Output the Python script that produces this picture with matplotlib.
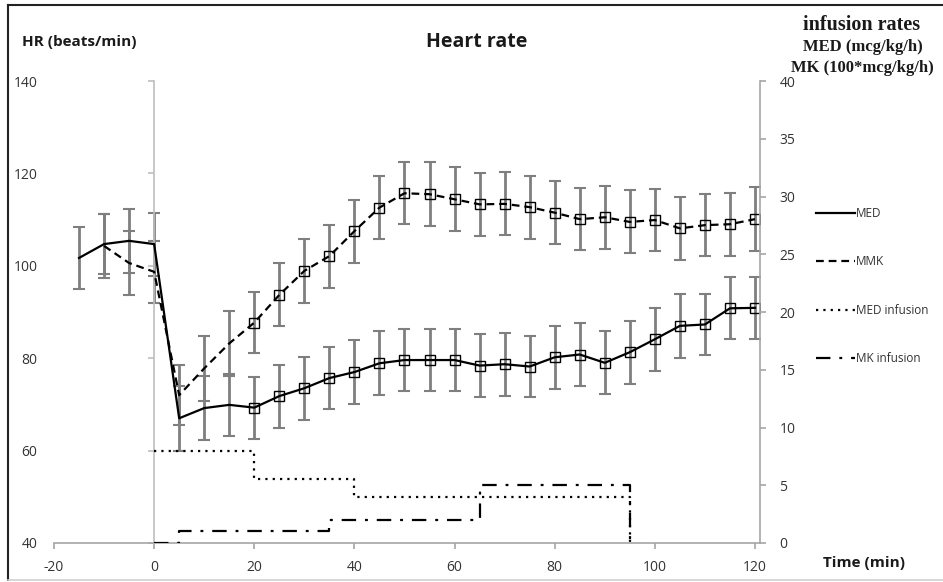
import matplotlib
matplotlib.use("Agg")
import matplotlib.pyplot as plt
from matplotlib.lines import Line2D
import numpy as np

plt.rcParams['font.family'] = ['Open Sans', 'DejaVu Sans']
plt.rcParams['axes.unicode_minus'] = False

# heart rate data (beats/min), mean and SD
med_time = [-15, -10, -5, 0, 5, 10, 15, 20, 25, 30, 35, 40, 45, 50, 55, 60,
            65, 70, 75, 80, 85, 90, 95, 100, 105, 110, 115, 120]
med_hr = [101.7, 104.7, 105.4, 104.7, 67.0, 69.2, 69.9, 69.3, 71.8, 73.5, 75.7,
          77.0, 78.9, 79.6, 79.6, 79.6, 78.4, 78.7, 78.2, 80.2, 80.8, 79.0,
          81.3, 84.1, 87.0, 87.3, 90.8, 90.9]
med_sd = [6.8, 6.5, 6.9, 6.8, 7.0, 7.0, 6.7, 6.7, 6.8, 6.8, 6.7, 6.9, 6.9, 6.8,
          6.8, 6.8, 6.8, 6.8, 6.7, 6.8, 6.9, 6.8, 6.8, 6.8, 6.9, 6.7, 6.7, 6.7]

mmk_time = [-10, -5, 0, 5, 10, 15, 20, 25, 30, 35, 40, 45, 50, 55, 60,
            65, 70, 75, 80, 85, 90, 95, 100, 105, 110, 115, 120]
mmk_hr = [104.3, 100.6, 98.7, 72.0, 77.8, 83.2, 87.7, 93.7, 98.9, 102.1, 107.5,
          112.6, 115.7, 115.5, 114.4, 113.3, 113.4, 112.7, 111.5, 110.1, 110.5,
          109.5, 109.9, 108.1, 108.8, 109.0, 110.1]
mmk_sd = [7.0, 6.9, 6.7, 6.5, 7.0, 7.0, 6.6, 6.8, 6.9, 6.8, 6.8, 6.8, 6.7, 6.9,
          6.9, 6.8, 6.8, 6.8, 6.8, 6.7, 6.8, 6.8, 6.8, 6.9, 6.7, 6.8, 6.9]

# infusion rates (step changes)
med_inf_time = [0, 20, 40, 95]
med_inf_rate = [8, 5.5, 4, 0]
mk_inf_time = [0, 5, 35, 65, 95]
mk_inf_rate = [0, 1, 2, 5, 0]

fig = plt.figure(figsize=(9.43, 5.82), dpi=100)
ax = fig.add_axes([54/943, 1-543/582, (760-54)/943, (543-81)/582])

grey = '#7f7f7f'
ax.errorbar(med_time, med_hr, yerr=med_sd, fmt='none', ecolor=grey,
            elinewidth=2, capsize=4, capthick=1.5, zorder=2)
ax.errorbar(mmk_time, mmk_hr, yerr=mmk_sd, fmt='none', ecolor=grey,
            elinewidth=2, capsize=4, capthick=1.5, zorder=2)

med_marks = [i for i, t in enumerate(med_time) if t >= 20]
mmk_marks = [i for i, t in enumerate(mmk_time) if t >= 20]
ax.plot(med_time, med_hr, color='black', lw=1.6, marker='s', ms=6.5,
        mfc='none', mec='black', mew=1, markevery=med_marks, zorder=3,
        label='MED')
ax.plot(mmk_time, mmk_hr, color='black', lw=1.6, ls=(0, (3.5, 2.2)),
        marker='s', ms=6.5, mfc='none', mec='black', mew=1,
        markevery=mmk_marks, zorder=3, label='MMK')

ax.set_xlim(-20, 121)
ax.set_ylim(40, 140)
ax.set_xticks([-20, 0, 20, 40, 60, 80, 100, 120])
ax.set_yticks([40, 60, 80, 100, 120, 140])

# vertical axis crosses at time 0, labels stay at the far left
ax.spines['left'].set_position(('data', 0))
ax.spines['left'].set_color('#bfbfbf')
ax.spines['left'].set_linewidth(1.2)
ax.tick_params(axis='y', labelleft=False, length=4, color='#bfbfbf', width=1.2)
sec = ax.secondary_yaxis('left')
sec.spines['left'].set_visible(False)
sec.set_yticks([40, 60, 80, 100, 120, 140])
sec.tick_params(length=0, pad=12, labelsize=10, labelcolor='#333333')

ax.spines['top'].set_visible(False)
ax.spines['right'].set_visible(False)
ax.spines['bottom'].set_color('#a6a6a6')
ax.spines['bottom'].set_linewidth(1.2)
ax.tick_params(axis='x', length=4, color='#a6a6a6', width=1.2, pad=8,
               labelsize=10, labelcolor='#333333')

ax2 = ax.twinx()
ax2.step(med_inf_time, med_inf_rate, where='post', color='black', lw=1.6,
         ls=(0, (1, 2.3)), label='MED infusion')
ax2.step(mk_inf_time, mk_inf_rate, where='post', color='black', lw=1.6,
         ls=(0, (6.5, 4, 1.3, 4)), label='MK infusion')
ax2.set_ylim(0, 40)
ax2.set_yticks(range(0, 45, 5))
for s in ['top', 'left', 'bottom']:
    ax2.spines[s].set_visible(False)
ax2.spines['right'].set_color('#a6a6a6')
ax2.spines['right'].set_linewidth(1.2)
ax2.tick_params(axis='y', length=4, color='#a6a6a6', width=1.2, pad=10,
                labelsize=10, labelcolor='#333333')

h1, l1 = ax.get_legend_handles_labels()
h2, l2 = ax2.get_legend_handles_labels()
handles = [Line2D([], [], color='black', lw=1.6),
           Line2D([], [], color='black', lw=1.6, ls=(0, (3.5, 2.2))),
           h2[0], h2[1]]
fig.legend(handles, l1 + l2, loc='upper left',
           bbox_to_anchor=(816/943, 1-207/582), frameon=False, fontsize=8.5,
           labelspacing=3.0, handlelength=3.3, handletextpad=0.1,
           borderpad=0, borderaxespad=0, labelcolor='#333333')

fig.text(22/943, 1-42/582, 'HR (beats/min)', ha='left', va='center',
         fontsize=11, fontweight='bold', color='#1a1a1a')
fig.text(477/943, 1-42/582, 'Heart rate', ha='center', va='center',
         fontsize=14, fontweight='bold', color='#1a1a1a')
serif = ['Liberation Serif', 'DejaVu Serif']
fig.text(862/943, 1-25/582, 'infusion rates', ha='center', va='center',
         fontsize=14.5, fontweight='bold', family=serif, color='#1a1a1a')
fig.text(863/943, 1-47/582, 'MED (mcg/kg/h)', ha='center', va='center',
         fontsize=12, fontweight='bold', family=serif, color='#1a1a1a')
fig.text(862/943, 1-68/582, 'MK (100*mcg/kg/h)', ha='center', va='center',
         fontsize=12, fontweight='bold', family=serif, color='#1a1a1a')
fig.text(823/943, 1-563/582, 'Time (min)', ha='left', va='center',
         fontsize=11, fontweight='bold', color='#1a1a1a')

# outer frame of the original image
fig.add_artist(Line2D([8/943, 8/943], [2/582, 1-5/582], color='#222222', lw=1.5))
fig.add_artist(Line2D([8/943, 1], [1-5/582, 1-5/582], color='#222222', lw=1.5))
fig.add_artist(Line2D([8/943, 1], [2/582, 2/582], color='#d0d0d0', lw=1.2))

fig.savefig('out.png', dpi=100)
